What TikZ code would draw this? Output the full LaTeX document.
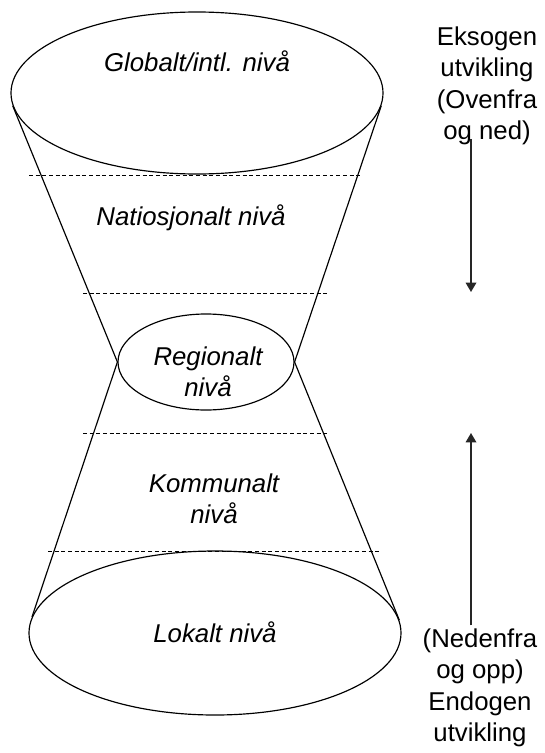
\documentclass[tikz,border=0pt]{standalone}
\usepackage{fontspec}
\setmainfont{Liberation Sans}
\usetikzlibrary{shapes.geometric,arrows.meta}
\newcommand{\rimwidth}{1pt}
\newcommand{\dashwidth}{0.8pt}
\newcommand{\labelfont}{\fontsize{22}{26.5}\selectfont}

\begin{document}
\begin{tikzpicture}[x=0.03cm,y=-0.03cm,
  disc/.style={draw, ellipse, inner sep=0, line width=\rimwidth},
  level/.style={font=\itshape\labelfont, align=center, inner sep=0},
  side/.style={font=\labelfont, align=center, inner sep=0},
  cut/.style={dash pattern=on 3.4pt off 2.3pt, line width=\dashwidth},
  flow/.style={-{Triangle[length=8pt,width=9pt]}, line width=1.4pt, black!85}]
\useasboundingbox (0,0) rectangle (545,753);
% levels
\node[disc, minimum width=11.16cm, minimum height=4.86cm] (glob) at (197,93) {};
\node[disc, minimum width=5.28cm, minimum height=2.88cm] (reg) at (206,362) {};
\node[disc, minimum width=11.16cm, minimum height=4.92cm] (lok) at (215,633) {};
\draw[line width=\rimwidth] (glob.184) -- (reg.west) -- (lok.175);
\draw[line width=\rimwidth] (glob.356) -- (reg.east) -- (lok.4);
% dashed borders
\draw[cut] (29,175) -- (362,175);
\draw[cut] (83,293) -- (330,293);
\draw[cut] (83,433) -- (330,433);
\draw[cut] (48,551) -- (379,551);
% texts
\node[level] (globtxt) at (197,61) {Globalt/intl. nivå};
\node[level] (nattxt) at (191,218) {Natiosjonalt nivå};
\node[level] (regtxt) at (208,372) {Regionalt\\nivå};
\node[level] (komtxt) at (214,499) {Kommunalt\\nivå};
\node[level] (loktxt) at (215,632) {Lokalt nivå};
% direction
\node[side, anchor=north] (ekso) at (487,27) {Eksogen\\utvikling\\(Ovenfra\\og ned)};
\node[side, anchor=north] (endo) at (480,629) {(Nedenfra\\og opp)\\Endogen\\utvikling};
\coordinate (ned) at (471,292);
\coordinate (opp) at (471,433);
\draw[flow] ([yshift=5pt]ekso.south -| ned) -- (ned);
\draw[flow] ([yshift=3pt]endo.north -| opp) -- (opp);
\end{tikzpicture}
\end{document}
